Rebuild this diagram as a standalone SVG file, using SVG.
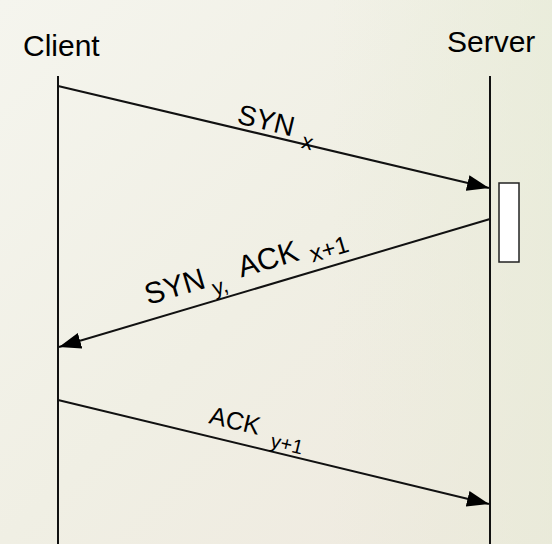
<svg xmlns="http://www.w3.org/2000/svg" width="552" height="544" viewBox="0 0 552 544">
  <defs>
    <linearGradient id="bg" x1="0" y1="0" x2="1" y2="1">
      <stop offset="0" stop-color="#f5f5ee"/>
      <stop offset="0.5" stop-color="#f0efe4"/>
      <stop offset="1" stop-color="#efe9df"/>
    </linearGradient>
    <linearGradient id="bgTint" x1="0" y1="0" x2="1" y2="0">
      <stop offset="0.6" stop-color="#e6ebd6" stop-opacity="0"/>
      <stop offset="1" stop-color="#e6ebd6" stop-opacity="0.6"/>
    </linearGradient>
    <marker id="head" viewBox="0 0 22 16" refX="22" refY="8" markerWidth="22" markerHeight="16" markerUnits="userSpaceOnUse" orient="auto">
      <path d="M0,0 L22,8 L0,16 Z" fill="#000"/>
    </marker>
  </defs>
  <style>
    .lifeline { stroke: #111; stroke-width: 2; fill: none; }
    .msg { stroke: #111; stroke-width: 2; fill: none; marker-end: url(#head); }
    .title { font-family: "Liberation Sans", Arial, sans-serif; font-size: 30px; fill: #000; }
    .label { font-family: "Liberation Sans", Arial, sans-serif; fill: #000; }
  </style>

  <rect width="552" height="544" fill="url(#bg)"/>
  <rect width="552" height="544" fill="url(#bgTint)"/>

  <!-- participants -->
  <g id="client">
    <text class="title" x="23" y="56">Client</text>
    <line class="lifeline" x1="58" y1="76" x2="58" y2="544"/>
  </g>
  <g id="server">
    <text class="title" x="447" y="52">Server</text>
    <line class="lifeline" x1="490" y1="76" x2="490" y2="544"/>
    <rect id="server-activation" x="499" y="183" width="20" height="79" fill="#fff" stroke="#222" stroke-width="1.5"/>
  </g>

  <!-- messages -->
  <g id="connectors">
    <line class="msg" x1="58" y1="86" x2="489" y2="188"/>
    <line class="msg" x1="490" y1="219" x2="59" y2="347"/>
    <line class="msg" x1="58" y1="400" x2="489" y2="504"/>
  </g>

  <!-- message labels -->
  <g id="label-syn">
    <text class="label" font-size="28" transform="translate(236,123) rotate(13.5)">SYN<tspan font-size="22" dx="11" dy="9">x</tspan></text>
  </g>
  <g id="label-synack">
    <text class="label" font-size="30" transform="translate(148,305) rotate(-16.5)">SYN<tspan font-size="22" dx="5" dy="10">y,</tspan><tspan dx="15" dy="-10">ACK</tspan><tspan font-size="24" dx="11" dy="6">x+1</tspan></text>
  </g>
  <g id="label-ack">
    <text class="label" font-size="25" transform="translate(208,423) rotate(13.5)">ACK<tspan font-size="20" dx="14" dy="9">y+1</tspan></text>
  </g>
</svg>
